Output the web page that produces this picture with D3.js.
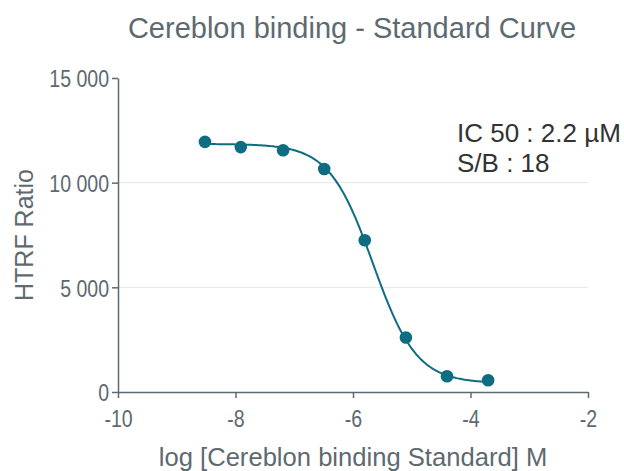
<!DOCTYPE html>
<html>
<head>
<meta charset="utf-8">
<script src="https://cdn.jsdelivr.net/npm/d3@7"></script>
<style>
  body { margin: 0; background: #fff; }
  svg { display: block; font-family: "Liberation Sans", Arial, sans-serif; }
</style>
</head>
<body>
<svg id="chart" width="624" height="471"></svg>
<script>
// measured points
const logConc = [-8.52, -7.91, -7.19, -6.49, -5.80, -5.10, -4.40, -3.70]
const ratio = [11950, 11700, 11550, 10650, 7250, 2600, 750, 560]
const fitTop = [11850]
const fitBottom = [420]
const fitLogIC50 = [-5.66]
const fitHill = [1.17]
const xTicks = [-10, -8, -6, -4, -2]
const yTicks = [0, 5000, 10000, 15000]
const notes = ['IC 50 : 2.2 µM', 'S/B : 18']

const width = 624, height = 471
const margin = { top: 78, right: 36, bottom: 79, left: 118 }
const axisColor = '#5d6a70'
const teal = '#0e6d80'
const squeeze = 0.85  // tick labels are a condensed face

const svg = d3.select('#chart')

const x = d3.scaleLinear().domain([-10, -2]).range([margin.left, width - margin.right])
const y = d3.scaleLinear().domain([0, 15000]).range([height - margin.bottom, margin.top])

// title
svg.append('text')
  .attr('x', 352).attr('y', 38)
  .attr('text-anchor', 'middle')
  .attr('fill', axisColor)
  .style('font-size', '29px')
  .text('Cereblon binding - Standard Curve')

// grid lines
svg.append('g')
  .selectAll('line')
  .data(yTicks.filter(d => d > 0 && d < 15000))
  .enter()
  .append('line')
  .attr('x1', x(-10)).attr('x2', x(-2))
  .attr('y1', d => y(d)).attr('y2', d => y(d))
  .attr('stroke', '#e6e6e6')
  .attr('stroke-width', 1)

const fmt = d => d3.format(',')(d).replace(',', ' ')

const yAxis = svg.append('g')
  .attr('transform', `translate(${x(-10)},0)`)
  .call(d3.axisLeft(y).tickValues(yTicks).tickSize(6).tickSizeOuter(0).tickFormat(fmt))
const xAxis = svg.append('g')
  .attr('transform', `translate(0,${y(0)})`)
  .call(d3.axisBottom(x).tickValues(xTicks).tickSize(6).tickSizeOuter(0).tickFormat(d => String(d)))

for (const ax of [xAxis, yAxis]) {
  ax.select('.domain').attr('stroke', axisColor).attr('stroke-width', 1.5)
  ax.selectAll('.tick line').attr('stroke', axisColor).attr('stroke-width', 1.5)
  ax.selectAll('.tick text')
    .attr('fill', axisColor)
    .style('font-size', '23px')
    .attr('transform', `scale(${squeeze},1)`)
}
yAxis.selectAll('.tick text').attr('x', -9 / squeeze).attr('dy', '0.38em')
xAxis.selectAll('.tick text').attr('y', 35).attr('dy', 0)

// axis titles
svg.append('text')
  .attr('transform', `translate(33,${y(7500)}) rotate(-90)`)
  .attr('text-anchor', 'middle')
  .attr('fill', axisColor)
  .style('font-size', '25px')
  .text('HTRF Ratio')

svg.append('text')
  .attr('x', 353).attr('y', 466)
  .attr('text-anchor', 'middle')
  .attr('fill', axisColor)
  .style('font-size', '25.6px')
  .text('log [Cereblon binding Standard] M')

// fitted curve
const fit = v => fitBottom[0] + (fitTop[0] - fitBottom[0]) / (1 + Math.pow(10, (v - fitLogIC50[0]) * fitHill[0]))
const curveX = d3.range(logConc[0], logConc[logConc.length - 1] + 0.001, 0.02)
svg.append('path')
  .datum(curveX)
  .attr('fill', 'none')
  .attr('stroke', teal)
  .attr('stroke-width', 2)
  .attr('d', d3.line().x(d => x(d)).y(d => y(fit(d))))

// points
svg.append('g')
  .selectAll('circle')
  .data(logConc.map((c, i) => ({ c, r: ratio[i] })))
  .enter()
  .append('circle')
  .attr('cx', d => x(d.c))
  .attr('cy', d => y(d.r))
  .attr('r', 6.3)
  .attr('fill', teal)

// annotation
svg.append('g')
  .selectAll('text')
  .data(notes)
  .enter()
  .append('text')
  .attr('x', 457)
  .attr('y', (d, i) => 142 + i * 30)
  .attr('fill', '#333')
  .style('font-size', '26px')
  .text(d => d)
</script>
</body>
</html>
